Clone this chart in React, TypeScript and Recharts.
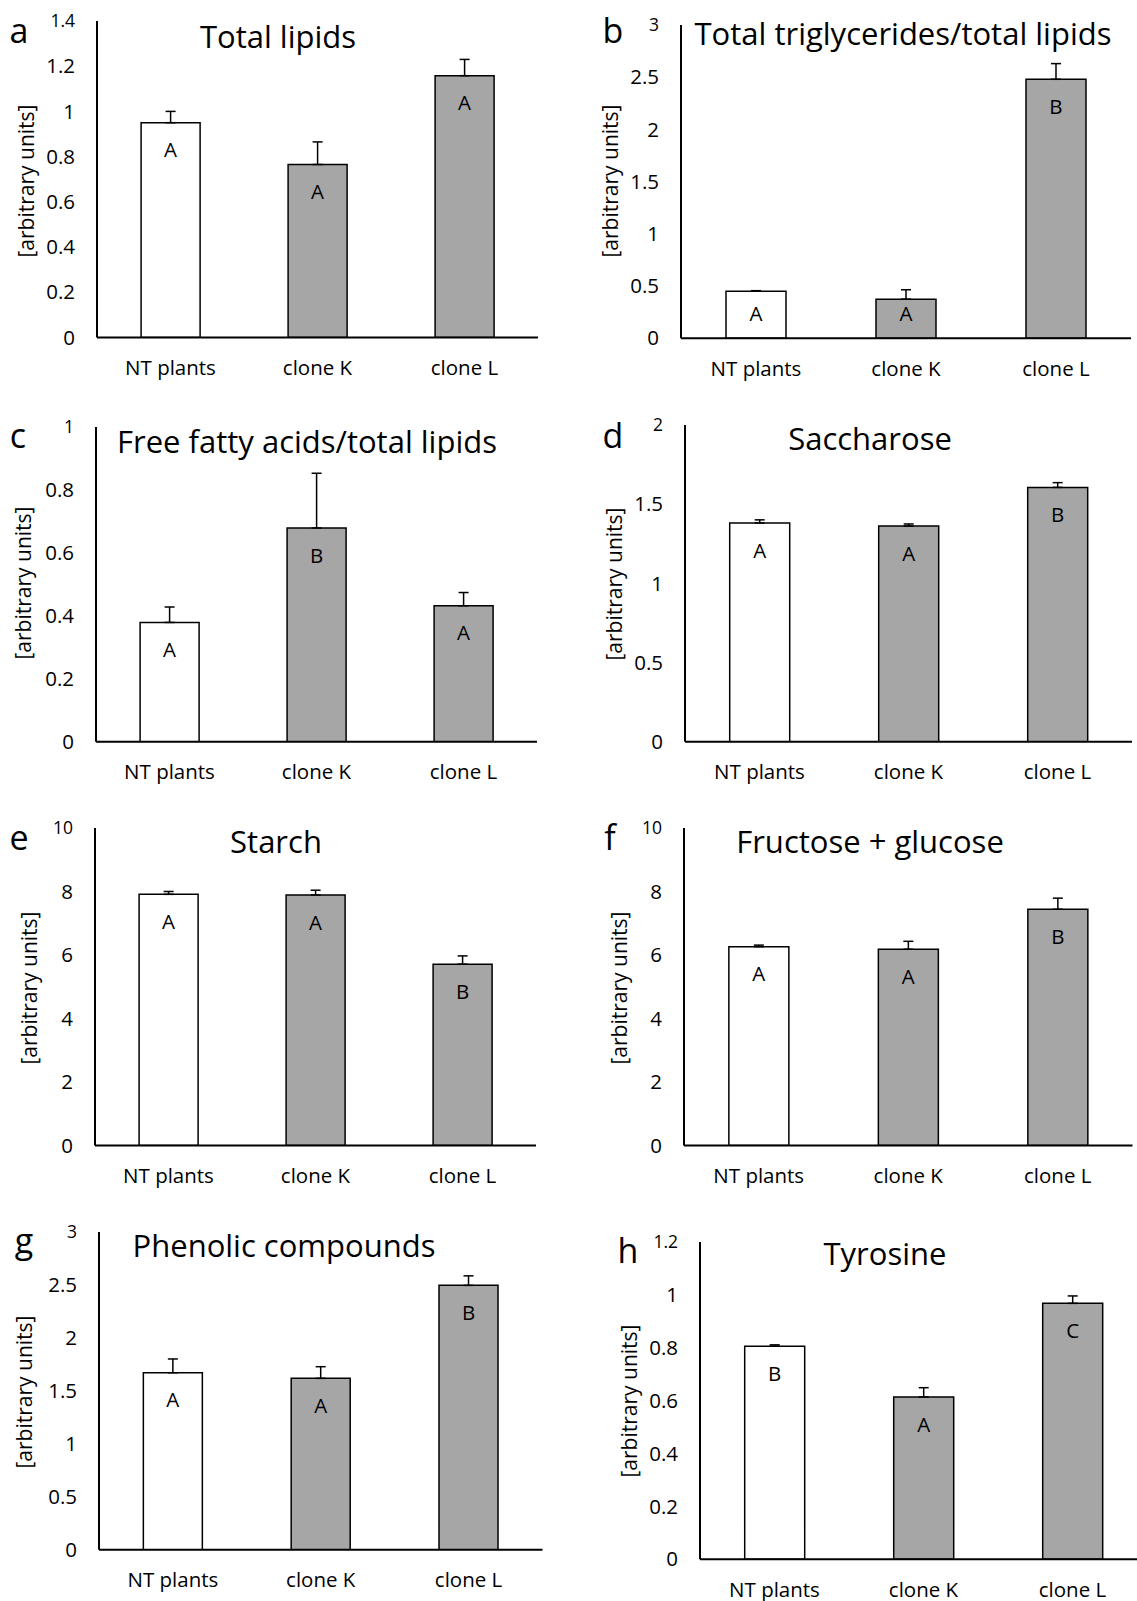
import { BarChart, Bar, XAxis, YAxis, Cell, ErrorBar, LabelList } from 'recharts';

const categories = ['NT plants', 'clone K', 'clone L'];

const totalLipids = [0.95, 0.765, 1.158];
const totalLipidsErr = [0.05, 0.1, 0.072];
const totalLipidsLetters = ['A', 'A', 'A'];

const triglycerides = [0.45, 0.374, 2.48];
const triglyceridesErr = [0.005, 0.09, 0.15];
const triglyceridesLetters = ['A', 'A', 'B'];

const fattyAcids = [0.379, 0.679, 0.432];
const fattyAcidsErr = [0.049, 0.174, 0.042];
const fattyAcidsLetters = ['A', 'B', 'A'];

const saccharose = [1.381, 1.362, 1.606];
const saccharoseErr = [0.02, 0.013, 0.03];
const saccharoseLetters = ['A', 'A', 'B'];

const starch = [7.91, 7.89, 5.71];
const starchErr = [0.09, 0.15, 0.26];
const starchLetters = ['A', 'A', 'B'];

const fructoseGlucose = [6.26, 6.18, 7.44];
const fructoseGlucoseErr = [0.05, 0.25, 0.35];
const fructoseGlucoseLetters = ['A', 'A', 'B'];

const phenolics = [1.671, 1.618, 2.496];
const phenolicsErr = [0.13, 0.11, 0.09];
const phenolicsLetters = ['A', 'A', 'B'];

const tyrosine = [0.806, 0.614, 0.968];
const tyrosineErr = [0.005, 0.035, 0.028];
const tyrosineLetters = ['B', 'A', 'C'];

const ticks14 = [0, 0.2, 0.4, 0.6, 0.8, 1, 1.2, 1.4];
const ticks3 = [0, 0.5, 1, 1.5, 2, 2.5, 3];
const ticks1 = [0, 0.2, 0.4, 0.6, 0.8, 1];
const ticks2 = [0, 0.5, 1, 1.5, 2];
const ticks10 = [0, 2, 4, 6, 8, 10];
const ticks12 = [0, 0.2, 0.4, 0.6, 0.8, 1, 1.2];

const yLabel = '[arbitrary units]';

// layout of each panel (pixel positions of the axes and texts)
const panels = [
  { id: 'a', title: 'Total lipids', values: totalLipids, errors: totalLipidsErr, letters: totalLipidsLetters, ticks: ticks14,
    x0: 97, x1: 538, yTop: 21.3, yBase: 337.7, tx: 278, ty: 48, lx: 19, ly: 43, yx: 25.5, yy: 181 },
  { id: 'b', title: 'Total triglycerides/total lipids', values: triglycerides, errors: triglyceridesErr, letters: triglyceridesLetters, ticks: ticks3,
    x0: 681, x1: 1131, yTop: 24.5, yBase: 337.7, tx: 903, ty: 45, lx: 613, ly: 43, yx: 610, yy: 181 },
  { id: 'c', title: 'Free fatty acids/total lipids', values: fattyAcids, errors: fattyAcidsErr, letters: fattyAcidsLetters, ticks: ticks1,
    x0: 96, x1: 537, yTop: 427, yBase: 741.7, tx: 307, ty: 453, lx: 18, ly: 448, yx: 22.5, yy: 583 },
  { id: 'd', title: 'Saccharose', values: saccharose, errors: saccharoseErr, letters: saccharoseLetters, ticks: ticks2,
    x0: 685, x1: 1132, yTop: 425, yBase: 741.7, tx: 870, ty: 450, lx: 613, ly: 448, yx: 614, yy: 584 },
  { id: 'e', title: 'Starch', values: starch, errors: starchErr, letters: starchLetters, ticks: ticks10,
    x0: 95, x1: 536, yTop: 828.3, yBase: 1145.7, tx: 276, ty: 853, lx: 19, ly: 850, yx: 29, yy: 988 },
  { id: 'f', title: 'Fructose + glucose', values: fructoseGlucose, errors: fructoseGlucoseErr, letters: fructoseGlucoseLetters, ticks: ticks10,
    x0: 683.5, x1: 1132, yTop: 828.3, yBase: 1145.7, tx: 870, ty: 853, lx: 610, ly: 850, yx: 619, yy: 988 },
  { id: 'g', title: 'Phenolic compounds', values: phenolics, errors: phenolicsErr, letters: phenolicsLetters, ticks: ticks3,
    x0: 99, x1: 542.5, yTop: 1232.3, yBase: 1550, tx: 284, ty: 1257, lx: 24, ly: 1253, yx: 24, yy: 1392 },
  { id: 'h', title: 'Tyrosine', values: tyrosine, errors: tyrosineErr, letters: tyrosineLetters, ticks: ticks12,
    x0: 700, x1: 1147, yTop: 1241.7, yBase: 1559, tx: 885, ty: 1265, lx: 628, ly: 1263, yx: 629, yy: 1401 },
];

const FONT = "'Open Sans', sans-serif";
const TEXT_SIZE = 20.5;
const PAD_L = 90;
const PAD_R = 12;
const PAD_T = 12;
const PAD_B = 50;

function YTick(props: any) {
  const { x, y, payload, top } = props;
  const isTop = payload.value === top;
  return (
    <text x={x} y={y} dy="0.35em" textAnchor="end" fill="#000" fontSize={isTop ? 17.5 : TEXT_SIZE} fontFamily={FONT}>
      {payload.value}
    </text>
  );
}

// significance letter: 20px under the bar top, but never closer than 32px to the base
function LetterLabel(props: any) {
  const { x, y, width, height, value } = props;
  const capTop = Math.min(y + 20, y + height - 32);
  return (
    <text x={x + width / 2} y={capTop} dy="0.71em" textAnchor="middle" fill="#000" fontSize={TEXT_SIZE} fontFamily={FONT}>
      {value}
    </text>
  );
}

function Panel({ p }: { p: (typeof panels)[number] }) {
  const max = p.ticks[p.ticks.length - 1];
  const data = categories.map((name, i) => ({
    name,
    value: p.values[i],
    err: [0, p.errors[i]],
    letter: p.letters[i],
  }));
  const width = p.x1 - p.x0 + PAD_L + PAD_R;
  const height = p.yBase - p.yTop + PAD_T + PAD_B;
  return (
    <div style={{ position: 'absolute', left: p.x0 - PAD_L, top: p.yTop - PAD_T }}>
      <BarChart
        width={width}
        height={height}
        data={data}
        margin={{ top: PAD_T, right: PAD_R, left: 0, bottom: 0 }}
        barCategoryGap="30%"
      >
        <XAxis
          dataKey="name"
          height={PAD_B}
          interval={0}
          axisLine={{ stroke: '#000', strokeWidth: 2 }}
          tickLine={false}
          tickSize={0}
          tickMargin={23}
          tick={{ fill: '#000', fontSize: TEXT_SIZE, fontFamily: FONT }}
        />
        <YAxis
          width={PAD_L}
          domain={[0, max]}
          ticks={p.ticks}
          interval={0}
          allowDataOverflow
          axisLine={{ stroke: '#000', strokeWidth: 2 }}
          tickLine={false}
          tickSize={0}
          tickMargin={22}
          tick={(t: any) => <YTick {...t} top={max} />}
        />
        <Bar dataKey="value" stroke="#000" strokeWidth={1.5} isAnimationActive={false}>
          {data.map((d, i) => (
            <Cell key={d.name} fill={i === 0 ? '#ffffff' : '#a6a6a6'} />
          ))}
          <ErrorBar dataKey="err" direction="y" width={5} stroke="#000" strokeWidth={1.5} />
          <LabelList dataKey="letter" content={<LetterLabel />} />
        </Bar>
      </BarChart>
    </div>
  );
}

export default function App() {
  return (
    <div
      style={{
        position: 'absolute',
        left: 0,
        top: 0,
        width: 1137,
        height: 1601,
        overflow: 'hidden',
        background: '#fff',
        fontFamily: FONT,
      }}
    >
      {panels.map((p) => (
        <Panel key={p.id} p={p} />
      ))}
      <svg width={1137} height={1601} style={{ position: 'absolute', left: 0, top: 0, pointerEvents: 'none' }}>
        {panels.map((p) => (
          <g key={p.id} fontFamily={FONT} fill="#000">
            <text x={p.lx} y={p.ly} fontSize={34} textAnchor="middle">{p.id}</text>
            <text x={p.tx} y={p.ty} fontSize={31} textAnchor="middle">{p.title}</text>
            <text
              x={p.yx}
              y={p.yy}
              fontSize={21}
              textAnchor="middle"
              dominantBaseline="central"
              transform={`rotate(-90 ${p.yx} ${p.yy})`}
            >
              {yLabel}
            </text>
          </g>
        ))}
      </svg>
    </div>
  );
}
